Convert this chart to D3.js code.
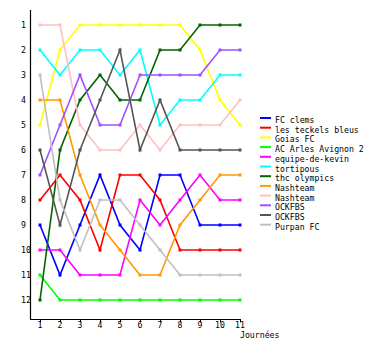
<!DOCTYPE html>
<html><head><meta charset="utf-8">
<script src="https://cdn.jsdelivr.net/npm/d3@7"></script>
<style>body{margin:0;background:#fff}svg{display:block}text{font-family:"DejaVu Sans Mono",monospace;font-size:8.2px;fill:#000}</style>
</head><body><div id="chart"></div>
<script>
const journees = [1,2,3,4,5,6,7,8,9,10,11];
const ranks = [1,2,3,4,5,6,7,8,9,10,11,12];
const teams = ["FC clems","les teckels bleus","Goias FC","AC Arles Avignon 2","equipe-de-kevin","tortipous","thc olympics","Nashteam","Nashteam","OCKFBS","OCKFBS","Purpan FC"];
const colors = ["#0000ff","#ff0000","#ffff00","#00ff00","#ff00ff","#00ffff","#006400","#ff9900","#ffc0c0","#a050ff","#555555","#c0c0c0"];
const fcClems        = [9,11,9,7,9,10,7,7,9,9,9];
const lesTeckels     = [8,7,8,10,7,7,8,10,10,10,10];
const goiasFC        = [5,2,1,1,1,1,1,1,2,4,5];
const acArles        = [11,12,12,12,12,12,12,12,12,12,12];
const equipeKevin    = [10,10,11,11,11,8,9,8,7,8,8];
const tortipous      = [2,3,2,2,3,2,5,4,4,3,3];
const thcOlympics    = [12,6,4,3,4,4,2,2,1,1,1];
const nashteamOrange = [4,4,7,9,10,11,11,9,8,7,7];
const nashteamPink   = [1,1,5,6,6,5,6,5,5,5,4];
const ockfbsPurple   = [7,5,3,5,5,3,3,3,3,2,2];
const ockfbsGray     = [6,9,6,4,2,6,4,6,6,6,6];
const purpanFC       = [3,8,10,8,8,9,10,11,11,11,11];
const seriesValues = [fcClems,lesTeckels,goiasFC,acArles,equipeKevin,tortipous,thcOlympics,nashteamOrange,nashteamPink,ockfbsPurple,ockfbsGray,purpanFC];

const W=380,H=350;
const svg=d3.select("#chart").append("svg").attr("width",W).attr("height",H);
const x=d3.scaleLinear().domain([1,11]).range([40,240]);
const y=d3.scaleLinear().domain([1,12]).range([25,300]);

// axes
svg.append("line").attr("x1",30.5).attr("x2",30.5).attr("y1",10).attr("y2",320).attr("stroke","#000").attr("stroke-width",1.2);
svg.append("line").attr("x1",30).attr("x2",241).attr("y1",319.5).attr("y2",319.5).attr("stroke","#000").attr("stroke-width",1.2);
svg.selectAll(".xt").data(journees).enter().append("line")
  .attr("x1",d=>Math.round(x(d))+0.5).attr("x2",d=>Math.round(x(d))+0.5).attr("y1",320).attr("y2",322.5).attr("stroke","#000");
svg.selectAll(".xl").data(journees).enter().append("text")
  .attr("x",d=>x(d)).attr("y",327.5).attr("text-anchor","middle").text(d=>d);
svg.selectAll(".yl").data(ranks).enter().append("text")
  .attr("x",21).attr("y",d=>y(d)+3).text(d=>d);
svg.append("text").attr("x",240).attr("y",338).text("Journées");

const line=d3.line().x((d,i)=>x(journees[i])).y(d=>y(d));
seriesValues.forEach((vals,k)=>{
  const g=svg.append("g");
  g.append("path").attr("d",line(vals)).attr("fill","none").attr("stroke",colors[k]).attr("stroke-width",1.6);
  g.selectAll("rect").data(vals).enter().append("rect")
    .attr("x",(d,i)=>x(journees[i])-1.5).attr("y",d=>y(d)-1.5).attr("width",3).attr("height",3).attr("fill",colors[k]);
});

// legend
const lg=svg.append("g");
teams.forEach((t,i)=>{
  const by=123+i*9.7;
  lg.append("line").attr("x1",260).attr("x2",271).attr("y1",by-5).attr("y2",by-5).attr("stroke",colors[i]).attr("stroke-width",2);
  lg.append("text").attr("x",275).attr("y",by).text(t);
});
</script></body></html>
